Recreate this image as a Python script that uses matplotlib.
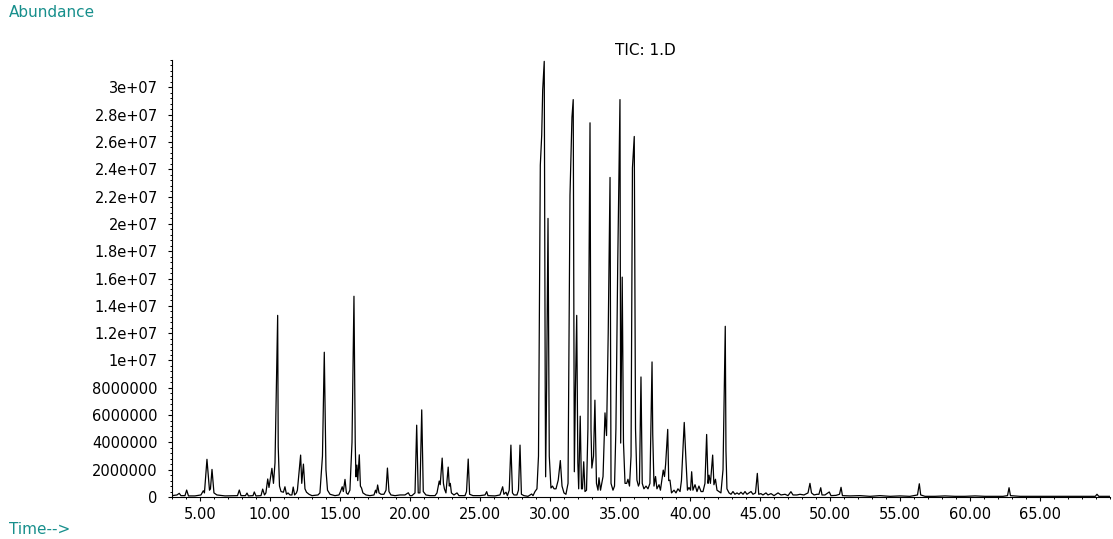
import matplotlib
matplotlib.use("Agg")
import matplotlib.pyplot as plt
from matplotlib.ticker import FixedLocator, MultipleLocator

plt.rcParams['font.family'] = ['DejaVu Sans']

# retention time (min) and abundance (millions)
time_min = [
    3.00, 3.36, 3.52, 3.64, 3.93, 4.05, 4.18, 4.64, 5.07, 5.24,
    5.32, 5.50, 5.68, 5.75, 5.86, 6.00, 6.21, 6.79, 7.68, 7.81,
    7.93, 8.25, 8.36, 8.46, 8.79, 8.88, 9.00, 9.36, 9.48, 9.61,
    9.71, 9.84, 9.93, 10.14, 10.25, 10.36, 10.55, 10.59, 10.68, 10.79,
    10.96, 11.07, 11.18, 11.29, 11.43, 11.57, 11.66, 11.76, 11.89, 11.96,
    12.19, 12.27, 12.39, 12.50, 12.61, 12.79, 13.00, 13.43, 13.57, 13.75,
    13.88, 14.00, 14.11, 14.29, 14.64, 14.93, 15.04, 15.16, 15.24, 15.36,
    15.46, 15.57, 15.71, 15.86, 16.00, 16.09, 16.14, 16.21, 16.27, 16.38,
    16.46, 16.54, 16.64, 16.86, 17.14, 17.43, 17.54, 17.61, 17.69, 17.79,
    17.93, 18.14, 18.29, 18.39, 18.50, 18.64, 18.93, 19.29, 19.64, 19.88,
    20.00, 20.14, 20.36, 20.48, 20.59, 20.71, 20.84, 20.95, 21.14, 21.43,
    21.79, 21.93, 22.09, 22.16, 22.30, 22.39, 22.46, 22.57, 22.73, 22.81,
    22.88, 22.96, 23.14, 23.36, 23.50, 23.93, 24.04, 24.16, 24.26, 24.50,
    25.00, 25.36, 25.48, 25.57, 26.07, 26.43, 26.62, 26.71, 26.86, 26.96,
    27.09, 27.21, 27.32, 27.43, 27.64, 27.75, 27.86, 27.96, 28.14, 28.43,
    28.69, 28.79, 28.93, 29.07, 29.18, 29.31, 29.41, 29.48, 29.59, 29.66,
    29.69, 29.76, 29.86, 29.95, 30.07, 30.18, 30.29, 30.43, 30.59, 30.74,
    30.86, 31.00, 31.14, 31.29, 31.43, 31.57, 31.66, 31.74, 31.82, 31.91,
    31.99, 32.05, 32.16, 32.25, 32.32, 32.41, 32.50, 32.61, 32.71, 32.86,
    32.93, 32.99, 33.11, 33.21, 33.32, 33.43, 33.50, 33.61, 33.79, 33.93,
    34.04, 34.16, 34.29, 34.36, 34.50, 34.61, 34.71, 34.84, 35.00, 35.05,
    35.16, 35.25, 35.36, 35.48, 35.57, 35.68, 35.79, 35.89, 36.02, 36.11,
    36.21, 36.32, 36.39, 36.50, 36.59, 36.71, 36.86, 37.00, 37.14, 37.29,
    37.34, 37.43, 37.54, 37.64, 37.79, 37.89, 38.09, 38.18, 38.26, 38.41,
    38.48, 38.57, 38.68, 38.86, 39.00, 39.14, 39.29, 39.39, 39.59, 39.71,
    39.82, 39.93, 40.04, 40.12, 40.21, 40.36, 40.50, 40.64, 40.79, 40.93,
    41.07, 41.19, 41.29, 41.36, 41.46, 41.62, 41.71, 41.82, 41.93, 42.07,
    42.21, 42.36, 42.52, 42.57, 42.64, 42.79, 42.93, 43.07, 43.21, 43.36,
    43.50, 43.64, 43.79, 43.93, 44.07, 44.21, 44.36, 44.50, 44.68, 44.81,
    44.91, 45.07, 45.21, 45.43, 45.57, 45.79, 46.00, 46.29, 46.50, 46.79,
    47.00, 47.21, 47.36, 47.64, 47.86, 48.14, 48.43, 48.57, 48.68, 48.86,
    49.07, 49.21, 49.34, 49.43, 49.64, 49.95, 50.07, 50.43, 50.68, 50.79,
    50.89, 51.43, 52.14, 52.86, 53.57, 54.29, 55.00, 55.71, 56.25, 56.38,
    56.48, 56.79, 57.50, 58.21, 58.93, 59.64, 60.36, 61.07, 61.79, 62.36,
    62.68, 62.79, 62.89, 63.57, 65.00, 66.43, 67.86, 68.95, 69.07, 69.20,
    69.50, 70.00,
]
abund_mil = [
    0.10, 0.15, 0.27, 0.10, 0.10, 0.51, 0.08, 0.08, 0.15, 0.46,
    0.30, 2.76, 0.50, 0.60, 2.02, 0.30, 0.15, 0.08, 0.10, 0.51,
    0.10, 0.10, 0.29, 0.08, 0.10, 0.37, 0.08, 0.10, 0.58, 0.15,
    0.30, 1.32, 0.70, 2.10, 1.00, 2.50, 13.30, 3.68, 0.80, 0.40,
    0.35, 0.75, 0.20, 0.30, 0.15, 0.15, 0.73, 0.15, 0.30, 0.50,
    3.07, 1.00, 2.41, 0.60, 0.35, 0.20, 0.10, 0.15, 0.30, 3.00,
    10.60, 2.00, 0.50, 0.20, 0.10, 0.15, 0.40, 0.75, 0.40, 1.29,
    0.30, 0.20, 0.50, 4.00, 14.70, 4.00, 1.48, 2.34, 1.20, 3.09,
    0.80, 0.66, 0.30, 0.15, 0.10, 0.15, 0.50, 0.30, 0.88, 0.30,
    0.20, 0.20, 0.50, 2.12, 0.40, 0.15, 0.10, 0.15, 0.15, 0.31,
    0.10, 0.10, 0.30, 5.26, 0.30, 0.30, 6.38, 0.40, 0.15, 0.10,
    0.10, 0.30, 1.17, 0.90, 2.85, 1.00, 0.60, 0.30, 2.19, 0.80,
    1.00, 0.30, 0.15, 0.30, 0.10, 0.10, 0.40, 2.78, 0.20, 0.10,
    0.10, 0.15, 0.39, 0.10, 0.08, 0.15, 0.75, 0.20, 0.35, 0.10,
    0.50, 3.80, 0.30, 0.15, 0.15, 0.50, 3.80, 0.20, 0.10, 0.05,
    0.22, 0.10, 0.40, 0.60, 3.00, 24.30, 26.50, 29.80, 31.90, 8.00,
    1.48, 8.00, 20.40, 3.00, 0.66, 0.80, 0.60, 0.60, 1.24, 2.67,
    0.80, 0.30, 0.20, 1.00, 22.10, 27.80, 29.10, 1.85, 8.00, 13.30,
    2.50, 0.60, 5.92, 0.60, 0.60, 2.58, 0.40, 0.50, 5.00, 27.40,
    5.00, 2.12, 3.00, 7.09, 1.00, 0.50, 1.41, 0.50, 1.50, 6.16,
    4.50, 12.00, 23.40, 1.00, 0.50, 0.80, 5.00, 17.10, 29.10, 3.95,
    16.10, 4.00, 1.00, 1.00, 1.30, 0.80, 3.00, 24.10, 26.40, 5.00,
    1.24, 0.80, 1.00, 8.79, 1.00, 0.60, 0.80, 0.60, 1.00, 9.89,
    4.60, 0.80, 1.50, 0.60, 0.90, 0.50, 1.97, 1.50, 2.39, 4.95,
    1.20, 1.24, 0.30, 0.50, 0.30, 0.60, 0.40, 1.20, 5.46, 2.76,
    0.50, 0.70, 0.50, 1.85, 0.50, 0.90, 0.40, 0.80, 0.40, 0.40,
    1.00, 4.58, 1.00, 1.60, 1.00, 3.07, 0.90, 1.30, 0.50, 0.40,
    0.30, 2.00, 12.50, 3.40, 0.60, 0.30, 0.20, 0.40, 0.20, 0.30,
    0.20, 0.35, 0.20, 0.40, 0.20, 0.30, 0.40, 0.20, 0.30, 1.73,
    0.20, 0.25, 0.15, 0.30, 0.15, 0.25, 0.10, 0.30, 0.15, 0.20,
    0.10, 0.39, 0.15, 0.15, 0.20, 0.15, 0.30, 1.00, 0.30, 0.15,
    0.20, 0.20, 0.68, 0.15, 0.15, 0.37, 0.10, 0.12, 0.20, 0.71,
    0.10, 0.08, 0.10, 0.05, 0.10, 0.05, 0.08, 0.05, 0.15, 0.97,
    0.15, 0.05, 0.05, 0.08, 0.05, 0.05, 0.08, 0.05, 0.05, 0.05,
    0.10, 0.68, 0.10, 0.05, 0.05, 0.05, 0.05, 0.05, 0.20, 0.05,
    0.05, 0.05,
]

xtick_pos = [5, 10, 15, 20, 25, 30, 35, 40, 45, 50, 55, 60, 65]
xtick_labels = ['5.00', '10.00', '15.00', '20.00', '25.00', '30.00', '35.00',
                '40.00', '45.00', '50.00', '55.00', '60.00', '65.00']
ytick_pos = [0, 2e6, 4e6, 6e6, 8e6, 1e7, 1.2e7, 1.4e7, 1.6e7, 1.8e7,
             2e7, 2.2e7, 2.4e7, 2.6e7, 2.8e7, 3e7]
ytick_labels = ['0', '2000000', '4000000', '6000000', '8000000', '1e+07',
                '1.2e+07', '1.4e+07', '1.6e+07', '1.8e+07', '2e+07',
                '2.2e+07', '2.4e+07', '2.6e+07', '2.8e+07', '3e+07']

teal = '#178f8c'

fig = plt.figure(figsize=(11.13, 5.39), dpi=100)
ax = fig.add_axes([0.1545, 0.0779, 0.8428, 0.8108])

abundance = [a * 1e6 for a in abund_mil]
ax.plot(time_min, abundance, color='black', lw=0.9)

ax.set_xlim(3, 70)
ax.set_ylim(0, 3.2e7)

ax.xaxis.set_major_locator(FixedLocator(xtick_pos))
ax.set_xticklabels(xtick_labels)
ax.xaxis.set_minor_locator(MultipleLocator(1))
ax.yaxis.set_major_locator(FixedLocator(ytick_pos))
ax.set_yticklabels(ytick_labels)
ax.yaxis.set_minor_locator(MultipleLocator(4e5))

ax.tick_params(which='major', direction='out', length=3.2, width=0.8,
               labelsize=10.5, colors='black')
ax.tick_params(which='minor', direction='out', length=1.6, width=0.7)
ax.tick_params(axis='y', pad=7)
ax.tick_params(axis='x', pad=4)

ax.spines['top'].set_visible(False)
ax.spines['right'].set_visible(False)
ax.spines['left'].set_linewidth(0.8)
ax.spines['bottom'].set_linewidth(0.8)

fig.text(0.5795, 0.907, 'TIC: 1.D', ha='center', va='center', fontsize=11)
fig.text(0.008, 0.976, 'Abundance', ha='left', va='center', fontsize=11, color=teal)
fig.text(0.008, 0.0167, 'Time-->', ha='left', va='center', fontsize=11, color=teal)

fig.savefig('out.png', dpi=100)
